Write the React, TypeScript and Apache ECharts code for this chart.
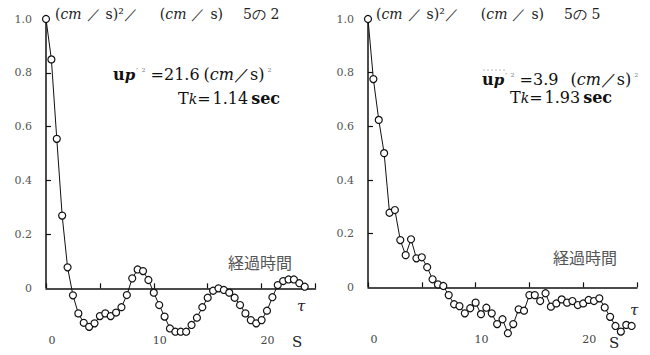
import React, { useEffect, useRef } from "react";
import * as echarts from "echarts";

// sample times (s)
const times = [
  0, 0.5, 1, 1.5, 2, 2.5, 3, 3.5, 4, 4.5, 5, 5.5, 6, 6.5, 7, 7.5, 8, 8.5, 9, 9.5,
  10, 10.5, 11, 11.5, 12, 12.5, 13, 13.5, 14, 14.5, 15, 15.5, 16, 16.5, 17, 17.5,
  18, 18.5, 19, 19.5, 20, 20.5, 21, 21.5, 22, 22.5, 23, 23.5, 24, 24.5,
];

// left panel (5の2)
const leftValues = [
  1.0, 0.85, 0.555, 0.27, 0.078, -0.026, -0.093, -0.128, -0.143, -0.13,
  -0.103, -0.093, -0.103, -0.09, -0.07, -0.025, 0.037, 0.07, 0.064, 0.031,
  -0.016, -0.062, -0.105, -0.149, -0.161, -0.161, -0.161, -0.136, -0.109, -0.07,
  -0.035, -0.009, 0.0, -0.006, -0.016, -0.035, -0.062, -0.093, -0.118, -0.13,
  -0.118, -0.083, -0.033, 0.012, 0.027, 0.033, 0.033, 0.019, 0.006,
];

// right panel (5の5)
const rightValues = [
  1.0, 0.776, 0.624, 0.5, 0.278, 0.288, 0.176, 0.12, 0.179, 0.108,
  0.112, 0.075, 0.03, 0.011, 0.005, -0.029, -0.063, -0.07, -0.097, -0.078,
  -0.057, -0.1, -0.076, -0.097, -0.137, -0.119, -0.171, -0.137, -0.082, -0.087,
  -0.029, -0.029, -0.051, -0.022, -0.072, -0.06, -0.045, -0.057, -0.051, -0.066,
  -0.06, -0.047, -0.051, -0.041, -0.075, -0.11, -0.144, -0.165, -0.14, -0.144,
];

const yLabelValues = [0, 0.2, 0.4, 0.6, 0.8, 1.0];
const yTickValues = [0.2, 0.4, 0.6, 0.8];
const xLabelValues = [0, 10, 20];

const panelNo = ["2", "5"];
const upValues = ["21.6", "3.9"];
const tkValues = ["1.14", "1.93"];
const timeLabel = "経過時間";

const SERIF = "'DejaVu Serif', 'Liberation Serif', serif";
const CJK = "'Noto Sans CJK JP', sans-serif";

export default function App() {
  const ref = useRef<HTMLDivElement>(null);
  useEffect(() => {
    if (!ref.current) return;
    const chart = echarts.init(ref.current, null, { renderer: "svg" });

    const grids = [
      { left: 46, top: 19, width: 269.5, height: 323.2 },
      { left: 368, top: 19, width: 269, height: 322 },
    ];

    const xAxes: any[] = [];
    const yAxes: any[] = [];
    [0, 1].forEach((g) => {
      xAxes.push({
        type: "value",
        gridIndex: g,
        min: 0,
        max: 25,
        interval: 5,
        position: "bottom",
        axisLine: { show: true, onZero: true, lineStyle: { color: "#111", width: 1.5 } },
        axisTick: { show: true, inside: true, length: 5, lineStyle: { color: "#111", width: 1.2 } },
        axisLabel: { show: false },
        splitLine: { show: false },
      });
      xAxes.push({
        type: "value",
        gridIndex: g,
        min: 0,
        max: 25,
        interval: 5,
        position: "bottom",
        axisLine: { show: false, onZero: false },
        axisTick: { show: false },
        axisLabel: {
          show: true,
          customValues: xLabelValues,
          margin: -7,
          padding: [0, 0, 0, 12],
          fontSize: 11,
          color: "#444",
          fontFamily: SERIF,
        },
        splitLine: { show: false },
      });
      yAxes.push({
        type: "value",
        gridIndex: g,
        min: -0.2,
        max: 1.0,
        interval: 0.2,
        axisLine: { show: false },
        axisTick: {
          show: true,
          inside: true,
          length: 5,
          customValues: yTickValues,
          lineStyle: { color: "#111", width: 1.2 },
        },
        axisLabel: {
          show: true,
          customValues: yLabelValues,
          margin: 14,
          fontSize: 11,
          color: "#555",
          fontFamily: SERIF,
          formatter: (v: number) => (v === 0 ? "0" : v.toFixed(1)),
        },
        splitLine: { show: false },
      });
    });

    const dataSeries = (vals: number[], g: number) => ({
      type: "line",
      xAxisIndex: g * 2,
      yAxisIndex: g,
      data: vals.map((v, i) => [times[i], v]),
      symbol: "circle",
      symbolSize: 7,
      showSymbol: true,
      lineStyle: { color: "#111", width: 1 },
      itemStyle: { color: "#fff", borderColor: "#111", borderWidth: 1.2 },
      z: 5,
      silent: true,
    });
    const yLineSeries = (g: number) => ({
      type: "line",
      xAxisIndex: g * 2,
      yAxisIndex: g,
      data: [
        [0, 0],
        [0, 1],
      ],
      symbol: "none",
      lineStyle: { color: "#111", width: 1.5 },
      z: 3,
      silent: true,
    });

    const titleRich = {
      t: { fontFamily: SERIF, fontSize: 14, fill: "#222" },
      i: { fontFamily: SERIF, fontStyle: "italic", fontSize: 14, fill: "#222" },
      sl: { fontFamily: SERIF, fontSize: 14, fill: "#333", padding: [0, 5, 0, 5] },
      sl2: { fontFamily: SERIF, fontSize: 14, fill: "#333", padding: [0, 22, 0, 0] },
      t5: { fontFamily: SERIF, fontSize: 14, fill: "#222", padding: [0, 0, 0, 20] },
    };
    const titleText = (n: string) =>
      `{t|(}{i|cm}{sl|／}{t|s)²}{sl2|／}{t|(}{i|cm}{sl|／}{t|s)}{t5|5の ${n}}`;

    const LH = 16;
    const upRich = {
      b: { fontFamily: SERIF, fontWeight: "bold", fontSize: 16, fill: "#111", lineHeight: LH },
      p: { fontFamily: SERIF, fontStyle: "italic", fontWeight: "bold", fontSize: 15, fill: "#111", lineHeight: LH, verticalAlign: "bottom" },
      sup: { fontFamily: SERIF, fontSize: 10, fill: "#888", lineHeight: LH, verticalAlign: "top", padding: [0, 5, 0, 1] },
      n: { fontFamily: SERIF, fontSize: 16, fill: "#111", lineHeight: LH },
      pl: { fontFamily: SERIF, fontSize: 16, fill: "#111", lineHeight: LH, padding: [0, 0, 0, 4] },
      pl2: { fontFamily: SERIF, fontSize: 16, fill: "#111", lineHeight: LH, padding: [0, 0, 0, 12] },
      i: { fontFamily: SERIF, fontStyle: "italic", fontSize: 16, fill: "#111", lineHeight: LH },
      sup2: { fontFamily: SERIF, fontSize: 10, fill: "#888", lineHeight: LH, verticalAlign: "top", padding: [0, 0, 0, 3] },
    };
    const upText = (val: string, g: number) =>
      `{b|u}{p|p}{sup|′ ²}{n|=${val}}{${g === 0 ? "pl" : "pl2"}|(}{i|cm}{n|／s)}{sup2|²}`;

    const tkRich = {
      n: { fontFamily: SERIF, fontSize: 16, fill: "#111", lineHeight: LH },
      k: { fontFamily: SERIF, fontStyle: "italic", fontSize: 14, fill: "#111", lineHeight: LH, verticalAlign: "bottom" },
      v: { fontFamily: SERIF, fontSize: 16, fill: "#111", lineHeight: LH, padding: [0, 3, 0, 2] },
      s: { fontFamily: SERIF, fontWeight: "bold", fontSize: 16, fill: "#111", lineHeight: LH },
    };
    const tkText = (val: string) => `{n|T}{k|k}{n|=}{v|${val}}{s|sec}`;

    const graphics: any[] = [
      { type: "text", left: 55, top: 7, style: { text: titleText(panelNo[0]), rich: titleRich } },
      { type: "text", left: 376, top: 7, style: { text: titleText(panelNo[1]), rich: titleRich } },
      { type: "text", left: 113, top: 66, style: { text: upText(upValues[0], 0), rich: upRich } },
      { type: "text", left: 482, top: 71, style: { text: upText(upValues[1], 1), rich: upRich } },
      { type: "text", left: 178, top: 90, style: { text: tkText(tkValues[0]), rich: tkRich } },
      { type: "text", left: 510, top: 89, style: { text: tkText(tkValues[1]), rich: tkRich } },
      {
        type: "line",
        shape: { x1: 483, y1: 70, x2: 506, y2: 70 },
        style: { stroke: "#bbb", lineWidth: 1, lineDash: [2, 2] },
      },
      {
        type: "text",
        left: 228,
        top: 254,
        style: { text: timeLabel, fontFamily: CJK, fontSize: 16, fill: "#555" },
      },
      {
        type: "text",
        left: 553,
        top: 249,
        style: { text: timeLabel, fontFamily: CJK, fontSize: 16, fill: "#555" },
      },
      {
        type: "text",
        left: 297,
        top: 298,
        style: { text: "τ", fontFamily: SERIF, fontStyle: "italic", fontSize: 15, fill: "#222" },
      },
      {
        type: "text",
        left: 630,
        top: 302,
        style: { text: "τ", fontFamily: SERIF, fontStyle: "italic", fontSize: 15, fill: "#222" },
      },
      {
        type: "text",
        left: 292,
        top: 334,
        style: { text: "S", fontFamily: SERIF, fontSize: 15, fill: "#222" },
      },
      {
        type: "text",
        left: 609,
        top: 335,
        style: { text: "S", fontFamily: SERIF, fontSize: 15, fill: "#222" },
      },
    ];

    chart.setOption({
      animation: false,
      backgroundColor: "#fff",
      grid: grids,
      xAxis: xAxes,
      yAxis: yAxes,
      series: [
        yLineSeries(0),
        yLineSeries(1),
        dataSeries(leftValues, 0),
        dataSeries(rightValues, 1),
      ],
      graphic: graphics,
    });

    return () => chart.dispose();
  }, []);

  return (
    <div
      ref={ref}
      style={{ position: "fixed", left: 0, top: 0, width: 650, height: 355, background: "#fff" }}
    />
  );
}
